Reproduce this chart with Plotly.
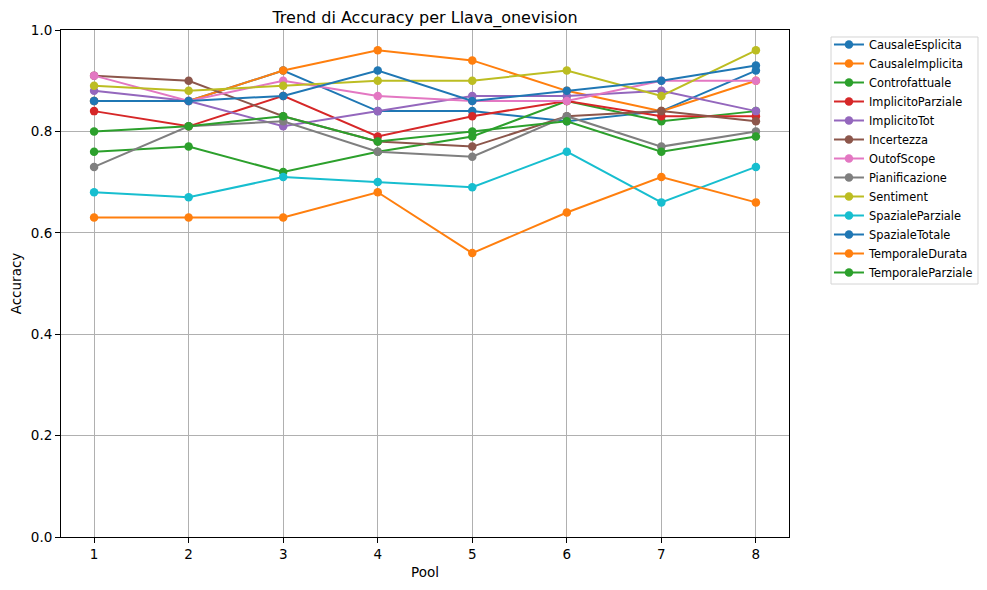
import plotly.graph_objects as go

pools = [1, 2, 3, 4, 5, 6, 7, 8]

CausaleEsplicita = [0.86, 0.86, 0.92, 0.84, 0.84, 0.82, 0.84, 0.92]
CausaleImplicita = [0.86, 0.86, 0.92, 0.96, 0.94, 0.88, 0.84, 0.90]
Controfattuale = [0.76, 0.77, 0.72, 0.76, 0.79, 0.86, 0.82, 0.84]
ImplicitoParziale = [0.84, 0.81, 0.87, 0.79, 0.83, 0.86, 0.83, 0.83]
ImplicitoTot = [0.88, 0.86, 0.81, 0.84, 0.87, 0.87, 0.88, 0.84]
Incertezza = [0.91, 0.90, 0.83, 0.78, 0.77, 0.83, 0.84, 0.82]
OutofScope = [0.91, 0.86, 0.90, 0.87, 0.86, 0.86, 0.90, 0.90]
Pianificazione = [0.73, 0.81, 0.82, 0.76, 0.75, 0.83, 0.77, 0.80]
Sentiment = [0.89, 0.88, 0.89, 0.90, 0.90, 0.92, 0.87, 0.96]
SpazialeParziale = [0.68, 0.67, 0.71, 0.70, 0.69, 0.76, 0.66, 0.73]
SpazialeTotale = [0.86, 0.86, 0.87, 0.92, 0.86, 0.88, 0.90, 0.93]
TemporaleDurata = [0.63, 0.63, 0.63, 0.68, 0.56, 0.64, 0.71, 0.66]
TemporaleParziale = [0.80, 0.81, 0.83, 0.78, 0.80, 0.82, 0.76, 0.79]

series_names = ["CausaleEsplicita", "CausaleImplicita", "Controfattuale", "ImplicitoParziale",
                "ImplicitoTot", "Incertezza", "OutofScope", "Pianificazione", "Sentiment",
                "SpazialeParziale", "SpazialeTotale", "TemporaleDurata", "TemporaleParziale"]
series_values = [CausaleEsplicita, CausaleImplicita, Controfattuale, ImplicitoParziale,
                 ImplicitoTot, Incertezza, OutofScope, Pianificazione, Sentiment,
                 SpazialeParziale, SpazialeTotale, TemporaleDurata, TemporaleParziale]

y_ticks = [0.0, 0.2, 0.4, 0.6, 0.8, 1.0]

palette = ["#1f77b4", "#ff7f0e", "#2ca02c", "#d62728", "#9467bd", "#8c564b",
           "#e377c2", "#7f7f7f", "#bcbd22", "#17becf"]

fig = go.Figure()
for i, (name, vals) in enumerate(zip(series_names, series_values)):
    c = palette[i % len(palette)]
    fig.add_trace(go.Scatter(
        x=pools, y=vals, name=name, mode="lines+markers",
        line=dict(color=c, width=2),
        marker=dict(color=c, size=8.5, symbol="circle"),
    ))

# page has an 8px body margin, so the figure is 8px smaller and margins shifted
W, H = 979, 582
L, R, T, B = 53, 198, 22, 53

FONT = "DejaVu Sans"
fig.update_layout(
    width=W, height=H,
    margin=dict(l=L, r=R, t=T, b=B, autoexpand=False),
    paper_bgcolor="white", plot_bgcolor="white",
    font=dict(family=FONT, size=13.5, color="black"),
    title=dict(text="Trend di Accuracy per Llava_onevision", x=0.5, xref="paper", xanchor="center",
               y=1 - 9/H, yref="container", yanchor="middle",
               font=dict(size=16, family=FONT, color="black")),
    showlegend=True,
    legend=dict(x=1.0549, y=1.0, xanchor="left", yanchor="top",
                borderwidth=0, bgcolor="rgba(0,0,0,0)",
                font=dict(size=11.4, family=FONT, color="black"), itemwidth=30),
    shapes=[dict(type="rect", xref="paper", yref="paper",
                 x0=1.0577, x1=1.2596, y0=0.499, y1=0.9862,
                 line=dict(color="#d4d4d4", width=1), fillcolor="rgba(255,255,255,0.8)",
                 layer="below")],
    xaxis=dict(range=[0.65, 8.35], tickmode="array", tickvals=pools,
               ticktext=[str(p) for p in pools],
               showgrid=True, gridcolor="#b0b0b0", gridwidth=1,
               showline=True, mirror=True, linecolor="black", linewidth=1,
               ticks="outside", ticklen=5, tickcolor="black", tickwidth=1,
               zeroline=False, automargin=False,
               title=dict(text="Pool", font=dict(size=13.5, family=FONT), standoff=6)),
    yaxis=dict(range=[0, 1], tickmode="array", tickvals=y_ticks,
               ticktext=[f"{v:.1f}" for v in y_ticks],
               showgrid=True, gridcolor="#b0b0b0", gridwidth=1,
               showline=True, mirror=True, linecolor="black", linewidth=1,
               ticks="outside", ticklen=5, tickcolor="black", tickwidth=1,
               zeroline=False, automargin=False,
               title=dict(text="Accuracy", font=dict(size=13.5, family=FONT), standoff=8)),
)

fig.write_html("out.html")
